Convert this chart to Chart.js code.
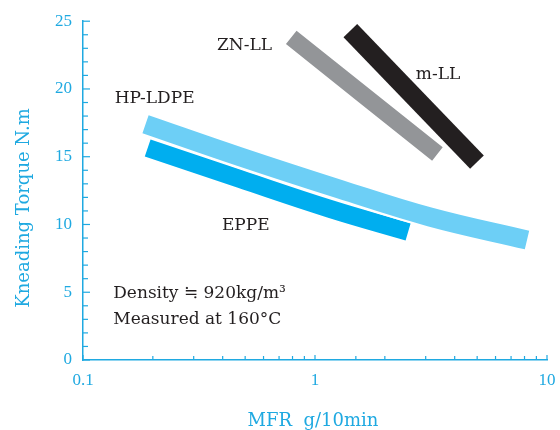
<!DOCTYPE html>
<html>
<head>
<meta charset="utf-8">
<script src="https://cdn.jsdelivr.net/npm/chart.js@4"></script>
<style>
  html, body { margin: 0; padding: 0; background: #fff; }
  canvas { display: block; }
</style>
</head>
<body>
<canvas id="chart" width="560" height="430"></canvas>
<script>
// 데이터: MFR (g/10min) 대 혼련 토크 (N.m)
const hpMfr = [0.186, 0.475, 1.28, 3.13, 8.2];
const hpTorque = [17.4, 15.0, 12.6, 10.55, 8.85];

const eppeMfr = [0.19, 0.475, 1.16, 2.52];
const eppeTorque = [15.65, 13.35, 11.15, 9.45];

const znMfr = [0.79, 3.37];
const znTorque = [23.8, 15.2];

const mllMfr = [1.42, 4.99];
const mllTorque = [24.3, 14.6];

const xTickLabels = [0.1, 1, 10];
const yTickLabels = [0, 5, 10, 15, 20, 25];

const BLUE = '#1fa9e1';

function points(xs, ys) {
    return xs.map((x, i) => ({ x: x, y: ys[i] }));
}

function band(label, xs, ys, color, width, order) {
    return {
        label: label,
        data: points(xs, ys),
        borderColor: color,
        borderWidth: width,
        borderCapStyle: 'butt',
        pointRadius: 0,
        tension: 0.4,
        fill: false,
        order: order
    };
}

// 안쪽으로 향하는 눈금 그리기
const innerTicks = {
    id: 'innerTicks',
    afterDraw(chart) {
        const { ctx, chartArea, scales } = chart;
        ctx.save();
        ctx.strokeStyle = BLUE;
        ctx.lineWidth = 1.2;
        scales.y.ticks.forEach(t => {
            const py = scales.y.getPixelForValue(t.value);
            const len = yTickLabels.includes(t.value) ? 7 : 5;
            ctx.beginPath();
            ctx.moveTo(chartArea.left, py);
            ctx.lineTo(chartArea.left + len, py);
            ctx.stroke();
        });
        scales.x.ticks.forEach(t => {
            const px = scales.x.getPixelForValue(t.value);
            const len = xTickLabels.some(v => Math.abs(v - t.value) < 1e-9) ? 5 : 4;
            ctx.beginPath();
            ctx.moveTo(px, chartArea.bottom);
            ctx.lineTo(px, chartArea.bottom - len);
            ctx.stroke();
        });
        ctx.restore();
    }
};

// 주석 텍스트 (데이터 좌표 위치)
const notes = [
    { text: 'ZN-LL', x: 0.378, y: 23.2 },
    { text: 'm-LL', x: 2.72, y: 21.07 },
    { text: 'HP-LDPE', x: 0.137, y: 19.3 },
    { text: 'EPPE', x: 0.397, y: 9.93 },
    { text: 'Density \u2252 920kg/m\u00b3', x: 0.135, y: 4.93 },
    { text: 'Measured at 160\u00b0C', x: 0.135, y: 3.0 }
];

const labelsPlugin = {
    id: 'labelsPlugin',
    afterDraw(chart) {
        const { ctx, scales } = chart;
        ctx.save();
        ctx.fillStyle = '#231f20';
        ctx.font = '17px "DejaVu Serif"';
        ctx.textAlign = 'left';
        ctx.textBaseline = 'middle';
        notes.forEach(n => {
            ctx.fillText(n.text, scales.x.getPixelForValue(n.x), scales.y.getPixelForValue(n.y));
        });

        // 축 제목
        ctx.fillStyle = BLUE;
        ctx.font = '18px "DejaVu Serif"';
        ctx.textAlign = 'center';
        ctx.textBaseline = 'alphabetic';
        ctx.fillText('MFR  g/10min', 313, 426);

        ctx.translate(29, 208);
        ctx.rotate(-Math.PI / 2);
        ctx.fillText('Kneading Torque N.m', 0, 0);
        ctx.restore();
    }
};

new Chart(document.getElementById('chart').getContext('2d'), {
    type: 'line',
    data: {
        datasets: [
            band('m-LL', mllMfr, mllTorque, '#231f20', 19, 1),
            band('ZN-LL', znMfr, znTorque, '#939598', 17, 2),
            band('HP-LDPE', hpMfr, hpTorque, '#6dcff6', 19, 3),
            band('', hpMfr, hpTorque, '#ffffff', 23, 4),
            band('EPPE', eppeMfr, eppeTorque, '#00aeef', 18, 5)
        ]
    },
    options: {
        responsive: false,
        animation: false,
        layout: { padding: { top: 20, right: 13, left: 0, bottom: 0 } },
        plugins: {
            legend: { display: false },
            tooltip: { enabled: false }
        },
        scales: {
            x: {
                type: 'logarithmic',
                min: 0.1,
                max: 10,
                border: { color: BLUE, width: 1.5 },
                grid: { drawOnChartArea: false, drawTicks: false },
                ticks: {
                    autoSkip: false,
                    maxRotation: 0,
                    padding: 10,
                    color: BLUE,
                    font: { family: '"Liberation Serif"', size: 17 },
                    callback: v => xTickLabels.some(t => Math.abs(t - v) < 1e-9) ? String(v) : ''
                },
                afterFit(scale) {
                    scale.height = 70;
                    scale.paddingLeft = 0;
                    scale.paddingRight = 0;
                }
            },
            y: {
                min: 0,
                max: 25,
                border: { color: BLUE, width: 1.5 },
                grid: { drawOnChartArea: false, drawTicks: false },
                ticks: {
                    stepSize: 1,
                    autoSkip: false,
                    padding: 11,
                    color: BLUE,
                    font: { family: '"Liberation Serif"', size: 17 },
                    callback: v => yTickLabels.includes(v) ? String(v) : ''
                },
                afterFit(scale) { scale.width = 83; }
            }
        }
    },
    plugins: [innerTicks, labelsPlugin]
});
</script>
</body>
</html>
